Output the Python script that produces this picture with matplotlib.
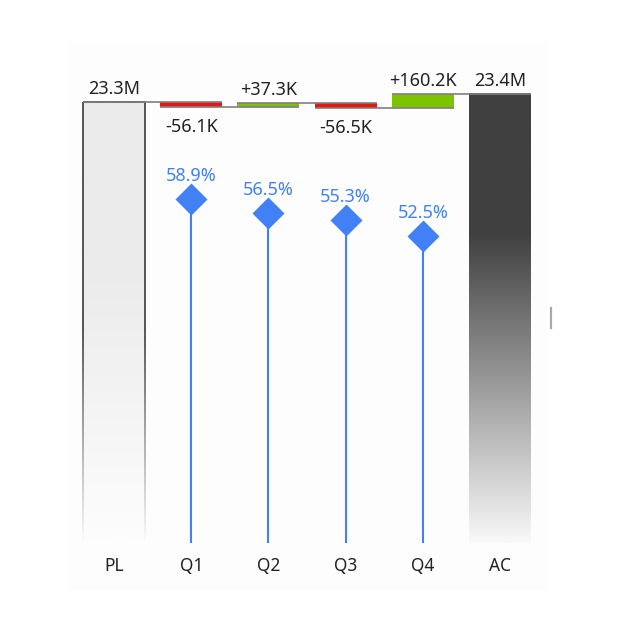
import numpy as np
import matplotlib
matplotlib.use("Agg")
import matplotlib.pyplot as plt
from matplotlib.collections import LineCollection
from matplotlib.lines import Line2D
from matplotlib.patches import Rectangle

plt.rcParams['font.family'] = ['Noto Sans', 'DejaVu Sans']

# ---------------- data ----------------
categories = ['PL', 'Q1', 'Q2', 'Q3', 'Q4', 'AC']
pl_value = 23300.0                      # thousands
deltas = [-56.1, 37.3, -56.5, 160.2]    # thousands
margin_pct = [58.9, 56.5, 55.3, 52.5]   # percent

# ---------------- style ----------------
W, H, DPI = 620, 634, 100
RED = '#E8170E'
GREEN = '#7DC400'
BLUE = '#4281F5'
GREY = '#7F7F7F'
TXT = '#222222'
FS = 13

# layout (pixels)
ax_left_px, ax_right_px = 67.7, 546.3
ax_top_px, ax_bot_px = 41.0, 590.0
base_px = 543.0
pl_top_px = 101.5
k_per_px = 11.1
pct_per_px = 1 / 5.84

fig = plt.figure(figsize=(W / DPI, H / DPI), dpi=DPI)
fig.patch.set_facecolor('white')
ax = fig.add_axes([ax_left_px / W, 1 - ax_bot_px / H,
                   (ax_right_px - ax_left_px) / W, (ax_bot_px - ax_top_px) / H])
ax.set_facecolor('#FDFDFD')
for s in ax.spines.values():
    s.set_visible(False)
ax.set_xticks([]); ax.set_yticks([])

y_top = pl_value + (pl_top_px - ax_top_px) * k_per_px
y_bot = pl_value - (ax_bot_px - pl_top_px) * k_per_px
base = pl_value - (base_px - pl_top_px) * k_per_px
ax.set_xlim(-0.6, 5.6)
ax.set_ylim(y_bot, y_top)

x = np.arange(len(categories))
bw = 0.803

px_to_pt = 72 / DPI

def val_to_px(v):
    return pl_top_px - (v - pl_value) / k_per_px

def lerp(c0, c1, t):
    t = min(max(t, 0), 1)
    return c0 + (c1 - c0) * t

def gradient_bar(xc, top, colors_fn, zorder=2):
    n = 400
    ys_px = np.linspace(base_px, val_to_px(top), n)  # bottom -> top
    cols = np.array([colors_fn(p) for p in ys_px])
    img = cols.reshape(n, 1, 3)
    ax.imshow(img, extent=[xc - bw / 2, xc + bw / 2, base, top], origin='lower',
              aspect='auto', interpolation='bilinear', zorder=zorder)

# PL bar: light grey fading to white below ~270px
def pl_col(p):
    t = (p - 270) / (base_px - 270)
    g = lerp(235, 253, t) / 255
    return (g, g, g)

# AC bar: dark grey fading to near white below ~233px
def ac_col(p):
    t = (p - 233) / (base_px - 233)
    g = lerp(64, 249, t) / 255
    return (g, g, g)

levels = [pl_value]
for d in deltas:
    levels.append(levels[-1] + d)
ac_value = levels[-1]

gradient_bar(x[0], pl_value, pl_col)
gradient_bar(x[5], ac_value, ac_col)

# PL border: fading vertical sides
def fading_side(xs, top, c_top=0.33, zorder=3, lw=1.4):
    n = 200
    ys = np.linspace(base, top, n + 1)
    segs = [[(xs, ys[i]), (xs, ys[i + 1])] for i in range(n)]
    cols = []
    for i in range(n):
        p = val_to_px((ys[i] + ys[i + 1]) / 2)
        t = (p - 330) / (base_px - 330)
        g = lerp(c_top * 255, 252, t) / 255
        cols.append((g, g, g))
    ax.add_collection(LineCollection(segs, colors=cols, linewidths=lw, zorder=zorder))

fading_side(x[0] - bw / 2, pl_value)
fading_side(x[0] + bw / 2, pl_value)
ax.plot([x[0] - bw / 2, x[0] + bw / 2], [pl_value, pl_value], color='#555555', lw=1.4,
        zorder=3, solid_capstyle='butt')

# delta bars
for i, d in enumerate(deltas):
    xi = x[i + 1]
    start = levels[i]
    col = GREEN if d > 0 else RED
    ax.add_patch(Rectangle((xi - bw / 2, start), bw, d, facecolor=col, edgecolor='none', zorder=2))

# connectors: each level from bar i left to bar i+1 right
for i in range(5):
    lv = levels[i]
    ax.plot([x[i] - bw / 2, x[i + 1] + bw / 2], [lv, lv], color=GREY, lw=1.2,
            zorder=4, solid_capstyle='butt')

# labels for totals and deltas
def lab(xc, y, text, above):
    off = 8 if above else -25
    ax.annotate(text, (xc, y), xytext=(0, off * px_to_pt), textcoords='offset points',
                ha='center', va='baseline', fontsize=FS, color=TXT, zorder=6)

lab(x[0], pl_value, f"{pl_value / 1000:.1f}M", True)
lab(x[5], ac_value, f"{ac_value / 1000:.1f}M", True)
for i, d in enumerate(deltas):
    top = max(levels[i], levels[i + 1])
    bot = min(levels[i], levels[i + 1])
    if d > 0:
        lab(x[i + 1], top, f"{d:+.1f}K", True)
    else:
        lab(x[i + 1], bot, f"{d:+.1f}K", False)

# category labels
for xi, c in zip(x, categories):
    ax.annotate(c, (xi, base), xytext=(0, -28 * px_to_pt), textcoords='offset points',
                ha='center', va='baseline', fontsize=FS - 0.5, color=TXT)

# percent lollipops on secondary axis
ax2 = fig.add_axes(ax.get_position(), sharex=ax)
ax2.patch.set_visible(False)
for s in ax2.spines.values():
    s.set_visible(False)
ax2.set_xticks([]); ax2.set_yticks([])
ax2.set_ylim(-(ax_bot_px - base_px) * pct_per_px, (base_px - ax_top_px) * pct_per_px)
xq = x[1:5]
ax2.vlines(xq, 0, margin_pct, color=BLUE, lw=1.5, zorder=5)
ax2.plot(xq, margin_pct, linestyle='none', marker='D', markersize=16.3,
         markerfacecolor=BLUE, markeredgecolor='none', zorder=6)
for xi, v in zip(xq, margin_pct):
    ax2.annotate(f"{v:.1f}%", (xi, v), xytext=(0, 18 * px_to_pt), textcoords='offset points',
                 ha='center', va='baseline', fontsize=FS, color=BLUE, zorder=7)

# small handle at right edge
fig.add_artist(Line2D([551 / W, 551 / W], [1 - 308 / H, 1 - 328 / H], color='#A8A8A8', lw=1.6))

fig.savefig('out.png', dpi=DPI, facecolor='white')
